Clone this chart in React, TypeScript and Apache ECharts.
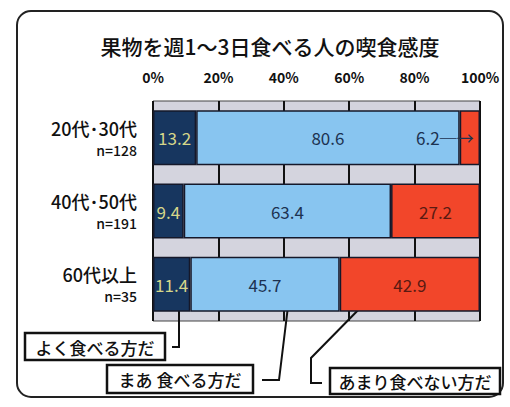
import React, { useEffect, useRef } from "react";
import * as echarts from "echarts";

const title = "果物を週1～3日食べる人の喫食感度";
const categories = ["20代･30代", "40代･50代", "60代以上"];
const sampleSizes = ["n=128", "n=191", "n=35"];
const seriesNames = ["よく食べる方だ", "まあ 食べる方だ", "あまり食べない方だ"];
const oftenValues = [13.2, 9.4, 11.4];
const sometimesValues = [80.6, 63.4, 45.7];
const rarelyValues = [6.2, 27.2, 42.9];
const xTicks = [0, 20, 40, 60, 80, 100];

const FONT = "'Noto Sans CJK JP', 'Noto Sans', sans-serif";

export default function App() {
  const ref = useRef<HTMLDivElement>(null);
  useEffect(() => {
    if (!ref.current) return;
    const chart = echarts.init(ref.current, null, { renderer: "svg" });
    const numLabel = (color: string) => ({
      show: true,
      position: "inside",
      color,
      fontSize: 17,
      fontFamily: FONT,
      formatter: "{c}",
    });
    const border = { borderColor: "#15182a", borderWidth: 1.5 };
    const legendText = (x: number, y: number, text: string) => ({
      type: "text",
      x,
      y,
      style: {
        text,
        fontSize: 17,
        fontFamily: FONT,
        fill: "#111",
        align: "center",
        verticalAlign: "middle",
        fontWeight: 500,
      },
    });
    chart.setOption({
      animation: false,
      backgroundColor: "#ffffff",
      title: {
        text: title,
        left: 265,
        top: 30,
        textAlign: "center",
        textStyle: { fontFamily: FONT, fontSize: 21, fontWeight: 500, color: "#111" },
      },
      grid: {
        left: 153,
        right: 30,
        top: 101,
        bottom: 86,
        show: true,
        backgroundColor: "#d4d4de",
        borderColor: "#444",
        borderWidth: 1,
      },
      xAxis: {
        type: "value",
        position: "top",
        min: xTicks[0],
        max: xTicks[xTicks.length - 1],
        interval: xTicks[1] - xTicks[0],
        axisLine: { show: false },
        axisTick: { show: false },
        axisLabel: {
          formatter: "{value}%",
          margin: 17,
          fontSize: 14,
          fontWeight: "bold",
          color: "#111",
          fontFamily: FONT,
        },
        splitLine: { show: true, lineStyle: { color: "#111", width: 2 } },
      },
      yAxis: {
        type: "category",
        inverse: true,
        data: categories,
        axisLine: { show: false },
        axisTick: { show: false },
        axisLabel: {
          margin: 16,
          align: "right",
          formatter: (v: string, i: number) => `{a|${v}}\n{b|${sampleSizes[i]}}`,
          rich: {
            a: { fontSize: 18, fontFamily: FONT, color: "#111", fontWeight: 500, align: "right", lineHeight: 24 },
            b: { fontSize: 14, fontFamily: FONT, color: "#111", fontWeight: 500, align: "right", lineHeight: 20 },
          },
        },
      },
      series: [
        {
          name: seriesNames[0],
          type: "bar",
          stack: "total",
          barCategoryGap: "25%",
          data: oftenValues,
          itemStyle: { color: "#17365f", ...border },
          label: numLabel("#d6d68a"),
        },
        {
          name: seriesNames[1],
          type: "bar",
          stack: "total",
          data: sometimesValues,
          itemStyle: { color: "#88c5f0", ...border },
          label: numLabel("#1c3250"),
        },
        {
          name: seriesNames[2],
          type: "bar",
          stack: "total",
          data: rarelyValues.map((v, i) =>
            i === 0
              ? {
                  value: v,
                  label: {
                    show: true,
                    position: "left",
                    distance: -14,
                    color: "#1c3250",
                    fontSize: 17,
                    fontFamily: FONT,
                    formatter: "{c}─→",
                  },
                }
              : v
          ),
          itemStyle: { color: "#f2462a", ...border },
          label: numLabel("#5a1a12"),
        },
      ],
      graphic: [
        {
          type: "rect",
          shape: { x: 17, y: 11, width: 486, height: 386, r: 14 },
          style: { fill: "none", stroke: "#222", lineWidth: 2 },
          silent: true,
        },
        {
          type: "rect",
          shape: { x: 25, y: 333, width: 140, height: 27 },
          style: { fill: "#fff", stroke: "#111", lineWidth: 2.5 },
        },
        legendText(95, 347, seriesNames[0]),
        {
          type: "polyline",
          shape: { points: [[179, 300], [179, 347], [172, 347]] },
          style: { stroke: "#111", lineWidth: 2, fill: "none" },
        },
        {
          type: "rect",
          shape: { x: 107, y: 365, width: 146, height: 28 },
          style: { fill: "#fff", stroke: "#111", lineWidth: 2.5 },
        },
        legendText(180, 379, seriesNames[1]),
        {
          type: "polyline",
          shape: { points: [[262, 380], [279, 380], [290, 290]] },
          style: { stroke: "#111", lineWidth: 2, fill: "none" },
        },
        {
          type: "rect",
          shape: { x: 330, y: 368, width: 170, height: 26 },
          style: { fill: "#fff", stroke: "#111", lineWidth: 2.5 },
        },
        legendText(415, 381, seriesNames[2]),
        {
          type: "polyline",
          shape: { points: [[322, 383], [311, 383], [311, 358], [370, 298]] },
          style: { stroke: "#111", lineWidth: 2, fill: "none" },
        },
      ],
    });
    return () => chart.dispose();
  }, []);
  return <div ref={ref} style={{ width: 510, height: 407, position: "absolute", left: 0, top: 0 }} />;
}
